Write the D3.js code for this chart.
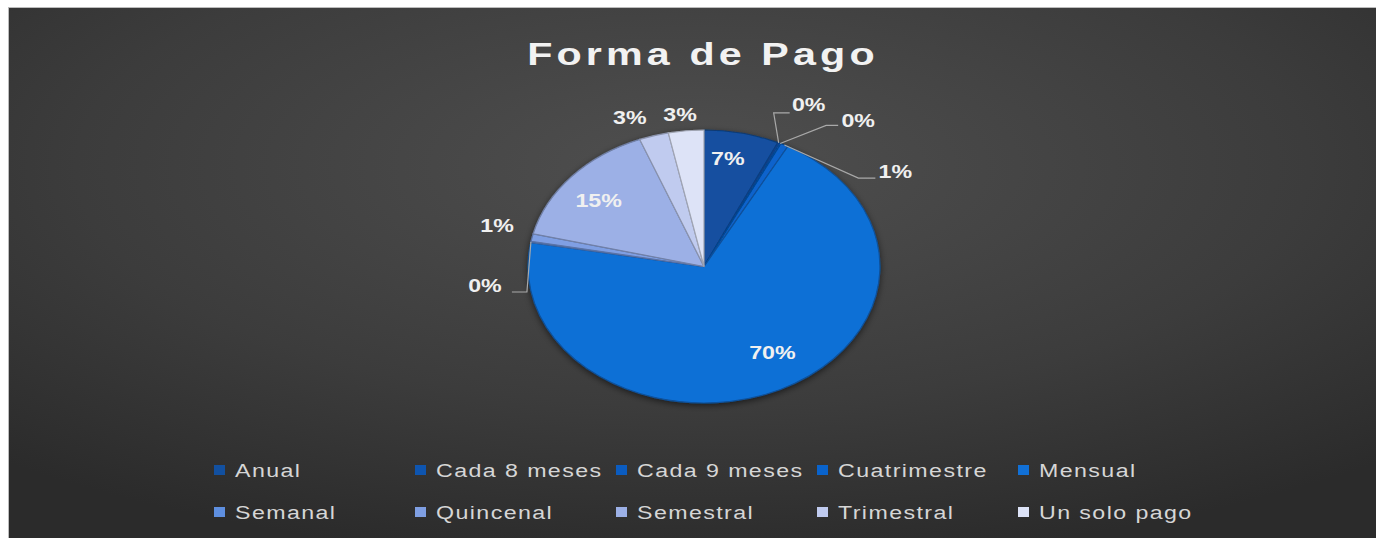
<!DOCTYPE html>
<html>
<head>
<meta charset="utf-8">
<script src="https://cdn.jsdelivr.net/npm/d3@7"></script>
<style>
  html, body { margin: 0; padding: 0; background: #ffffff; }
  svg { display: block; }
</style>
</head>
<body>
<div id="chart"></div>
<script>
// data
const categories = ["Anual", "Cada 8 meses", "Cada 9 meses", "Cuatrimestre", "Mensual",
                    "Semanal", "Quincenal", "Semestral", "Trimestral", "Un solo pago"];
const shares = [6.9, 0.15, 0.15, 0.7, 69.9, 0.15, 0.9, 15.2, 2.7, 3.25];
const sliceColors = ["#1250a0", "#0e55b0", "#0b5cc0", "#0963cc", "#1170d6",
                     "#5e8fe0", "#7f9fe3", "#9cb0e6", "#c0cbef", "#dde3f7"];
const chartTitle = "Forma de Pago";

// label placement, offsets from the slice's mid point on the pie edge (screen px)
const labelLayout = [
    {dx: -14, dy: 25, leader: null},
    {dx: 30, dy: -38, leader: [[-5, -30], [11, -30]]},
    {dx: 78, dy: -23, leader: [[46, -18], [58, -18]]},
    {dx: 111, dy: 26, leader: [[74, 33], [91, 33]]},
    {dx: -8, dy: -37, leader: null},
    {dx: -46, dy: 44, leader: [[-4, 50], [-19, 50]]},
    {dx: -35, dy: -12, leader: null},
    {dx: 27, dy: 24, leader: null},
    {dx: -24, dy: -18, leader: null},
    {dx: -6, dy: -16, leader: null}
];

const W = 1376, H = 538;
const sx = 1.289;           // horizontal stretch of the whole picture
const cx = 704, cy = 266.5, ry = 136.5, rx = ry * sx;

const data = categories.map((c, i) => ({name: c, value: shares[i], color: sliceColors[i]}));
const total = d3.sum(shares);
const fmt = d3.format(".0%");

const svg = d3.select('#chart').append('svg')
    .attr('width', W)
    .attr('height', H);

const defs = svg.append('defs');
const grad = defs.append('radialGradient')
    .attr('id', 'bg')
    .attr('cx', '50%').attr('cy', '30%').attr('r', '75%');
grad.append('stop').attr('offset', '0%').attr('stop-color', '#4f4f4f');
grad.append('stop').attr('offset', '60%').attr('stop-color', '#3c3c3c');
grad.append('stop').attr('offset', '100%').attr('stop-color', '#2b2b2b');

const shadow = defs.append('filter')
    .attr('id', 'shadow')
    .attr('x', '-20%').attr('y', '-20%').attr('width', '140%').attr('height', '140%');
shadow.append('feDropShadow')
    .attr('dx', 0).attr('dy', 2)
    .attr('stdDeviation', 3)
    .attr('flood-color', '#000')
    .attr('flood-opacity', 0.55);

svg.append('rect')
    .attr('x', 8.5).attr('y', 7.5)
    .attr('width', W - 8).attr('height', H - 7)
    .attr('fill', 'url(#bg)')
    .attr('stroke', '#bcbcbc')
    .attr('stroke-width', 1);

// title
svg.append('text')
    .attr('transform', `translate(701,65) scale(${sx},1)`)
    .attr('text-anchor', 'middle')
    .attr('font-family', 'Liberation Sans, Arial, sans-serif')
    .attr('font-weight', 'bold')
    .attr('font-size', '32px')
    .attr('letter-spacing', '3.2px')
    .attr('dx', 1.5)
    .attr('fill', '#f2f2f2')
    .text(chartTitle);

// pie
const pie = d3.pie().sort(null).value(d => d.value);
const arcs = pie(data);
const arc = d3.arc().innerRadius(0).outerRadius(ry);

const pieG = svg.append('g')
    .attr('transform', `translate(${cx},${cy}) scale(${sx},1)`)
    .attr('filter', 'url(#shadow)');

pieG.selectAll('path')
    .data(arcs)
    .enter()
    .append('path')
    .attr('d', arc)
    .attr('fill', d => d.data.color)
    .attr('stroke', d => d3.color(d.data.color).darker(0.9))
    .attr('stroke-width', 1.2)
    .attr('vector-effect', 'non-scaling-stroke');

function edgePoint(a) {
    const m = (a.startAngle + a.endAngle) / 2;
    return [cx + rx * Math.sin(m), cy - ry * Math.cos(m)];
}

// leader lines and labels
const line = d3.line();
const labelG = svg.append('g');
arcs.forEach((a, i) => {
    const lay = labelLayout[i];
    const p = edgePoint(a);
    if (lay.leader) {
        const pts = [p].concat(lay.leader.map(o => [p[0] + o[0], p[1] + o[1]]));
        labelG.append('path')
            .attr('d', line(pts))
            .attr('fill', 'none')
            .attr('stroke', '#a9a9a9')
            .attr('stroke-width', 1.2);
    }
    labelG.append('text')
        .attr('transform', `translate(${p[0] + lay.dx},${p[1] + lay.dy}) scale(${sx},1)`)
        .attr('text-anchor', 'middle')
        .attr('dy', '0.36em')
        .attr('font-family', 'Liberation Sans, Arial, sans-serif')
        .attr('font-weight', 'bold')
        .attr('font-size', '18px')
        .attr('fill', '#f0f0f0')
        .text(fmt(a.data.value / total));
});

// legend
const perRow = 5;
const legendX = d3.scaleLinear().domain([0, 1]).range([235, 436]);
const legendY = d3.scaleLinear().domain([0, 1]).range([477, 519]);
const legend = svg.append('g')
    .selectAll('g')
    .data(data)
    .enter()
    .append('g')
    .attr('transform', (d, i) => `translate(${legendX(i % perRow)},${legendY(Math.floor(i / perRow))})`);

legend.append('rect')
    .attr('x', -21).attr('y', -12)
    .attr('width', 11).attr('height', 10)
    .attr('fill', d => d.color);

legend.append('text')
    .attr('transform', `scale(${sx},1)`)
    .attr('font-family', 'Liberation Sans, Arial, sans-serif')
    .attr('font-size', '18px')
    .attr('letter-spacing', '1.1px')
    .attr('fill', '#d6d6d6')
    .text(d => d.name);
</script>
</body>
</html>
